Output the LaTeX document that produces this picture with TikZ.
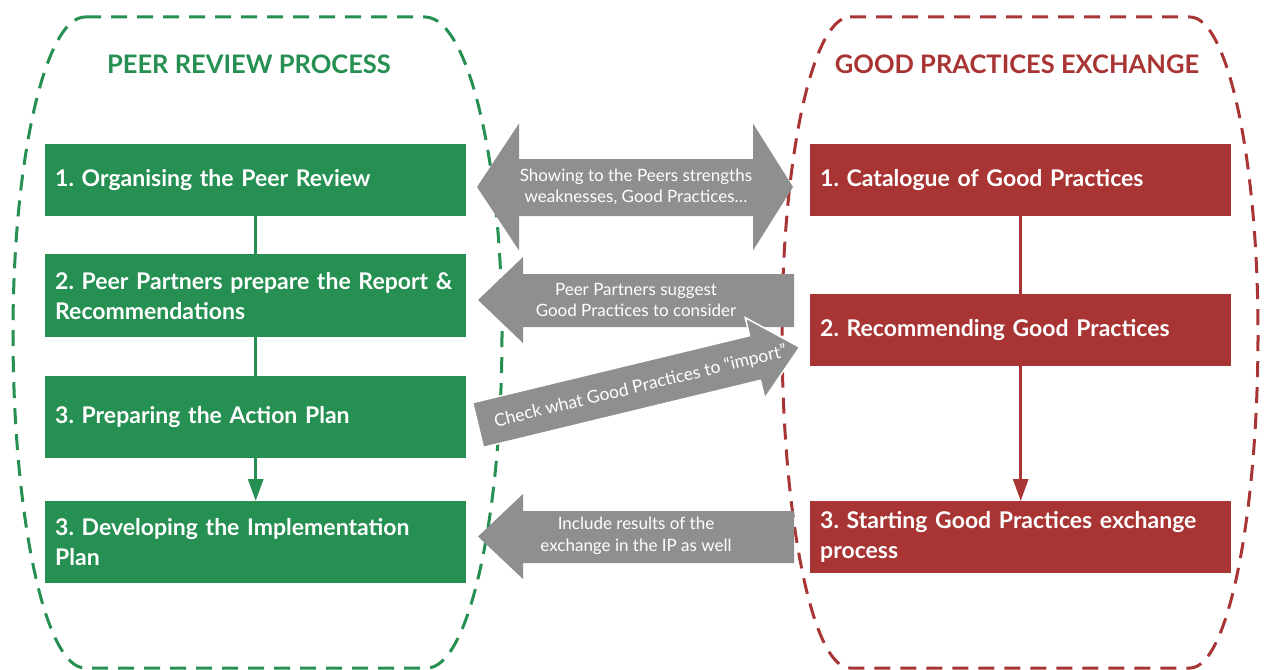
\documentclass[tikz,border=0pt]{standalone}
\usepackage{fontspec}
\setmainfont{Lato}
\usetikzlibrary{arrows.meta}
\frenchspacing

\definecolor{prgreen}{RGB}{38,143,82}
\definecolor{gpred}{RGB}{168,53,51}
\definecolor{arrowgrey}{RGB}{143,143,143}

\tikzstyle{stagebox} = [rectangle, anchor=north west, minimum width=421pt, inner xsep=10pt, inner ysep=0pt, text width=401pt, align=left, text=white, font=\fontsize{23}{30}\selectfont\bfseries]
\tikzstyle{greenbox} = [stagebox, fill=prgreen]
\tikzstyle{redbox} = [stagebox, fill=gpred]
\tikzstyle{lane} = [line width=3pt, dash pattern=on 16pt off 10pt]
\tikzstyle{heading} = [font=\fontsize{25.5}{32}\selectfont\bfseries]
\tikzstyle{bigarrow} = [fill=arrowgrey]
\tikzstyle{arrowtext} = [text=white, align=center, font=\fontsize{17}{21.5}\selectfont]
\tikzstyle{link} = [line width=3pt]

\begin{document}
\begin{tikzpicture}[x=1pt, y=-1pt]
\useasboundingbox (0,0) rectangle (1265,669);

% dashed lanes round the two columns
\draw[lane, prgreen] (85,17) -- (425,17)
    .. controls (467.5,17) and (502,158.6) .. (502,333)
    .. controls (502,518) and (468.4,668) .. (427,668) -- (85,668)
    .. controls (45.3,668) and (13,518) .. (13,333)
    .. controls (13,158.6) and (45.3,17) .. (85,17) -- cycle;
\draw[lane, gpred] (850,17) -- (1190,17)
    .. controls (1227.5,17) and (1258,158.6) .. (1258,333)
    .. controls (1258,518) and (1227.5,668) .. (1190,668) -- (850,668)
    .. controls (812.5,668) and (782,518) .. (782,333)
    .. controls (782,158.6) and (812.5,17) .. (850,17) -- cycle;

\node[heading, text=prgreen] (prtitle) at (249,64.5) {PEER REVIEW PROCESS};
\node[heading, text=gpred] (gptitle) at (1017,64.5) {GOOD PRACTICES EXCHANGE};

% peer review steps
\node[greenbox, minimum height=72pt] (pr1) at (45,144) {1. Organising the Peer Review};
\node[greenbox, minimum height=83pt] (pr2) at (45,254) {2. Peer Partners prepare the Report \&\\Recommendations};
\node[greenbox, minimum height=82pt] (pr3) at (45,376) {3. Preparing the Action Plan};
\node[greenbox, minimum height=82pt] (pr4) at (45,501) {3. Developing the Implementation\\Plan};

% good practice steps
\node[redbox, minimum height=72pt] (gp1) at (810,144) {1. Catalogue of Good Practices};
\node[redbox, minimum height=72pt] (gp2) at (810,294) {2. Recommending Good Practices};
\node[redbox, minimum height=72pt] (gp3) at (810,501) {3. Starting Good Practices exchange\\process};

\draw[link, prgreen] (pr1.south) -- (pr2.north);
\draw[link, prgreen] (pr2.south) -- (pr3.north);
\draw[link, prgreen, -{Triangle[width=15pt,length=22pt]}] (pr3.south) -- (pr4.north);
\draw[link, gpred] (gp1.south) -- (gp2.north);
\draw[link, gpred, -{Triangle[width=15pt,length=22pt]}] (gp2.south) -- (gp3.north);

% grey block arrows between the columns
\fill[bigarrow] (477,187) -- (519,123.5) -- (519,159) -- (753,159) -- (753,123.5)
    -- (793,187) -- (753,250.5) -- (753,216) -- (519,216) -- (519,250.5) -- cycle;
\node[arrowtext] (showing) at (636,187) {Showing to the Peers strengths\\weaknesses, Good Practices…};

\fill[bigarrow] (478,300) -- (523,257) -- (523,274) -- (794,274) -- (794,327)
    -- (523,327) -- (523,343) -- cycle;
\node[arrowtext] (suggest) at (636,300) {Peer Partners suggest\\Good Practices to consider};

\begin{scope}[shift={(478,425)}, rotate=13.6]
\filldraw[bigarrow, draw=white, line width=1.5pt] (0,-23) -- (285,-23) -- (285,-41.5)
    -- (331,0) -- (285,41.5) -- (285,23) -- (0,23) -- cycle;
\node[arrowtext, font=\fontsize{17.5}{22}\selectfont, rotate=13.6] (check) at (167,1) {Check what Good Practices to “import”};
\end{scope}

\fill[bigarrow] (478,536.5) -- (523,494) -- (523,511) -- (794,511) -- (794,563)
    -- (523,563) -- (523,579) -- cycle;
\node[arrowtext] (include) at (636,536) {Include results of the\\exchange in the IP as well};
\end{tikzpicture}
\end{document}
